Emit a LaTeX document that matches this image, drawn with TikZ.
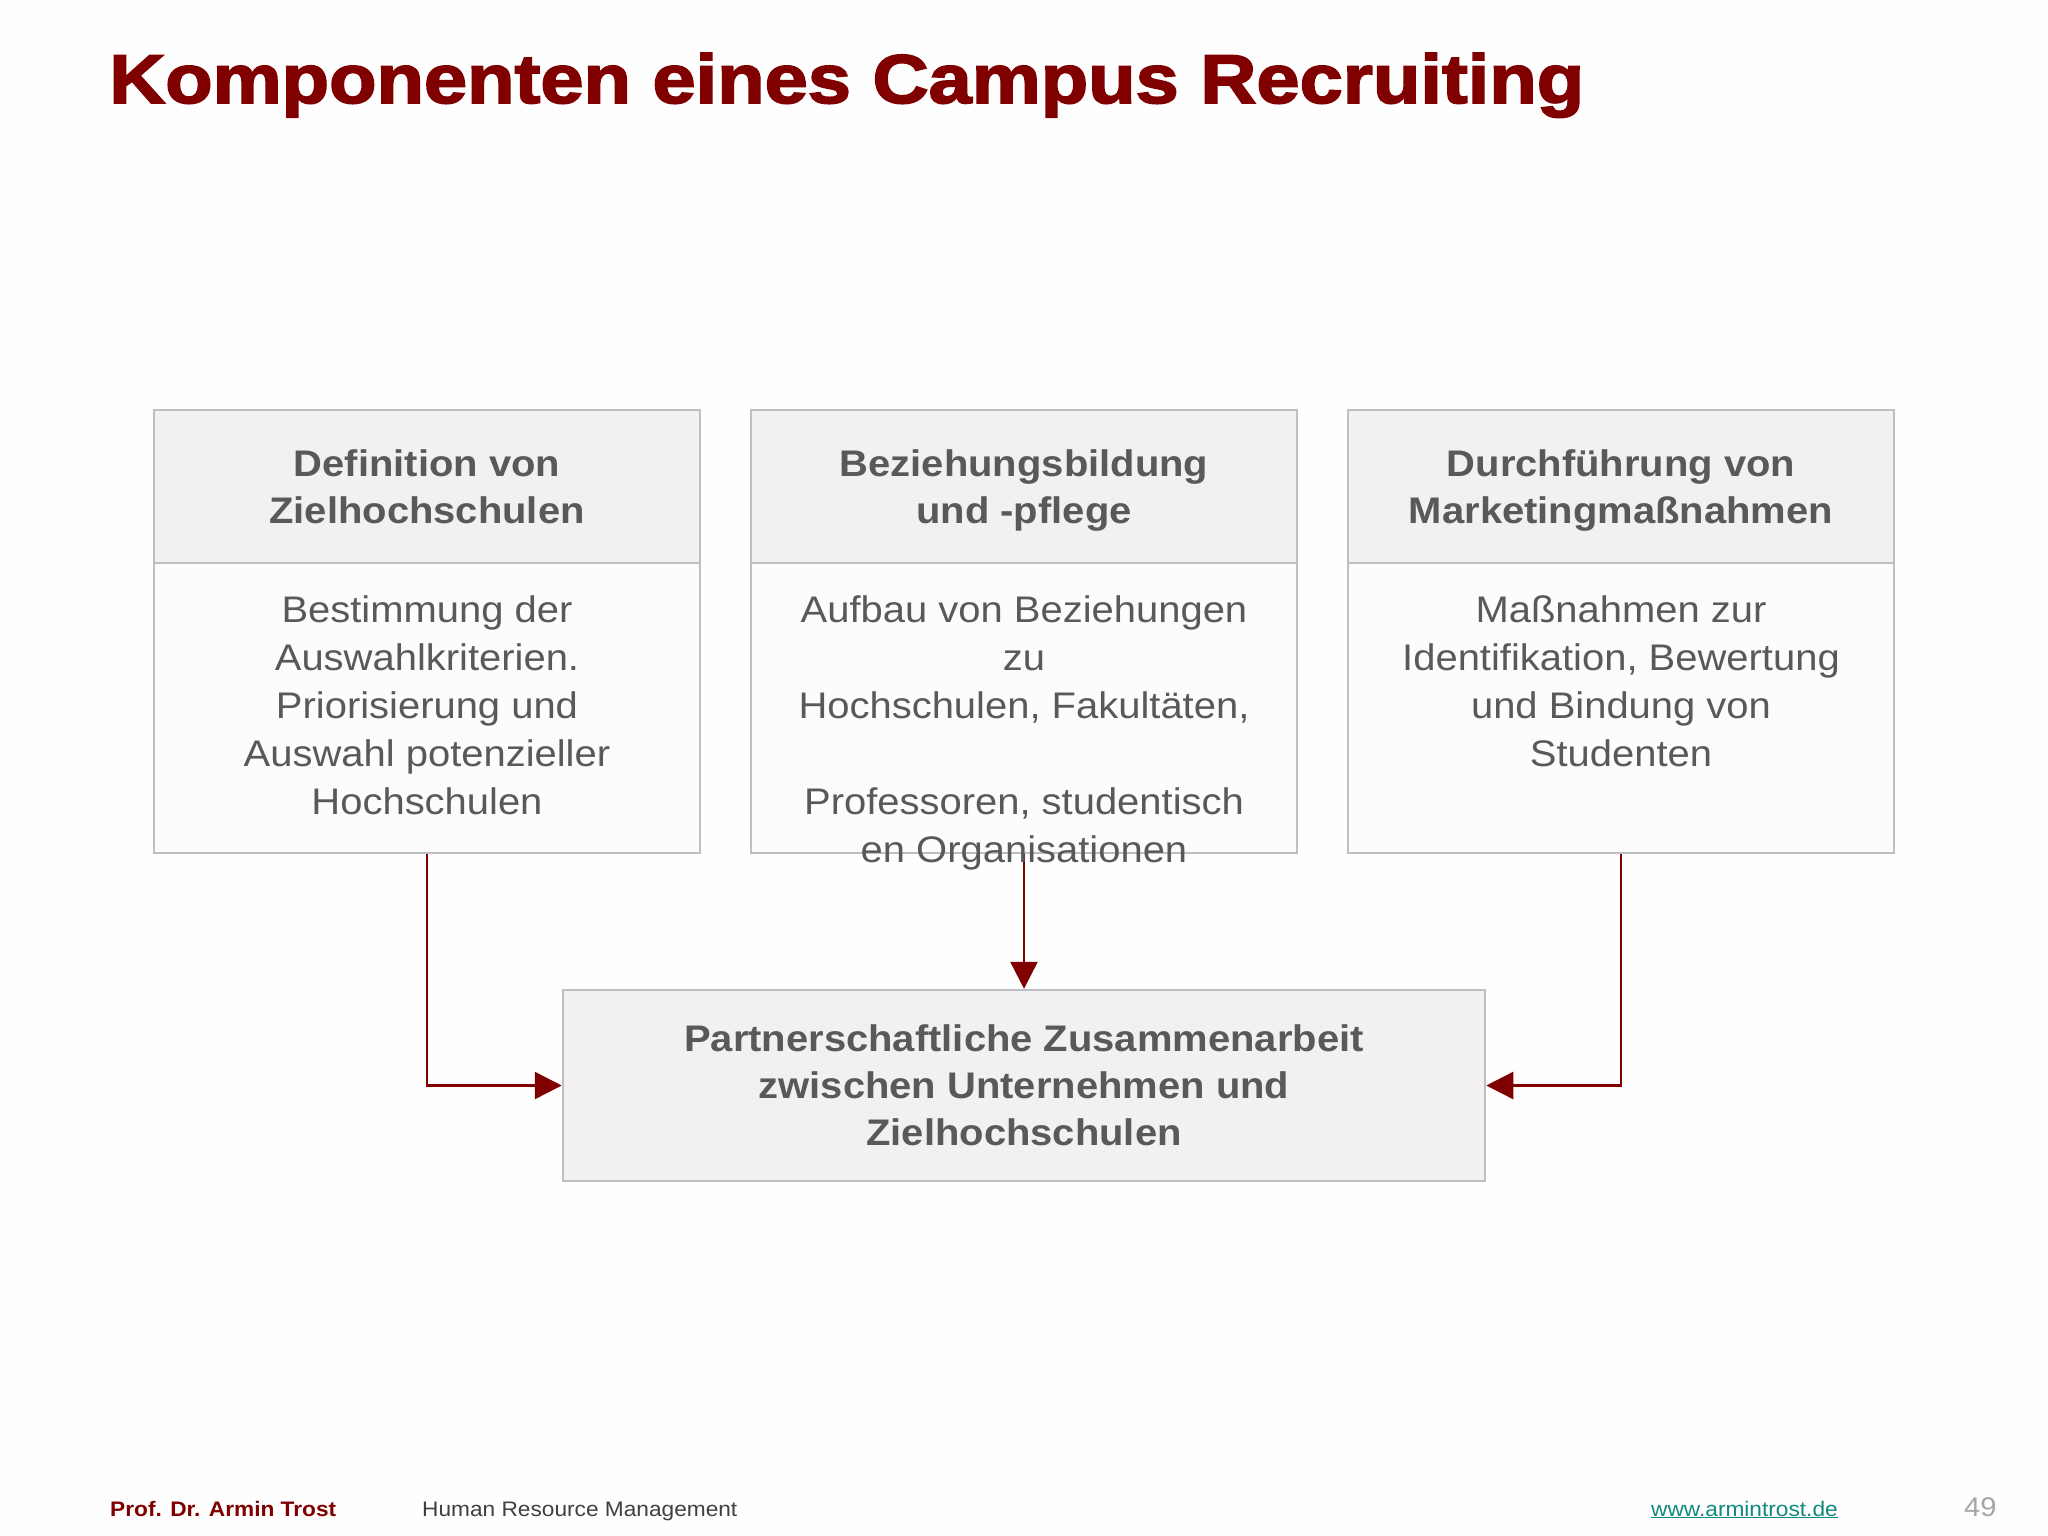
\documentclass[tikz,border=0pt]{standalone}
\usepackage{fontspec}
\setmainfont{Liberation Sans}[FakeStretch=1.08]
\newfontfamily\titlefont{Liberation Sans}[FakeStretch=1.125,BoldFeatures={FakeBold=2.5}]
\usetikzlibrary{arrows.meta}
\definecolor{titlered}{HTML}{800000}
\definecolor{textgray}{HTML}{595959}
\definecolor{linegray}{HTML}{BFBFBF}
\definecolor{headfill}{HTML}{F2F0F2}
\definecolor{bodyfill}{HTML}{FDFCFD}
\definecolor{linkteal}{HTML}{12897F}
\definecolor{pagegray}{HTML}{A6A6A6}
\definecolor{footgray}{HTML}{404040}

\begin{document}
\begin{tikzpicture}[x=1pt,y=-1pt,
  head/.style={draw=linegray,line width=2.5pt,fill=headfill,minimum width=546pt,minimum height=154pt,
    align=center,text depth=0pt,text=textgray,font=\fontsize{37}{47}\selectfont\bfseries},
  body/.style={draw=linegray,line width=2.5pt,fill=bodyfill,minimum width=546pt,minimum height=290pt},
  bodytext/.style={anchor=north,align=center,inner sep=0pt,text=textgray,font=\fontsize{37}{48}\selectfont},
  foot/.style={anchor=base west,inner sep=0pt,font=\fontsize{21}{25}\selectfont},
  flow/.style={->,color=titlered,line width=2.5pt,>={Triangle[length=27pt,width=27pt]}}]
\fill[white!60!bodyfill] (0,0) rectangle (2048,1536);
\node[anchor=base west,inner sep=0pt,text=titlered,font=\titlefont\fontsize{69}{80}\selectfont\bfseries] (title) at (109,103) {Komponenten eines Campus Recruiting};
\node[head] (h1) at (427,487) {Definition von\\Zielhochschulen};
\node[head] (h2) at (1024,487) {Beziehungsbildung\\und -pflege};
\node[head] (h3) at (1621,487) {Durchführung von\\Marketingmaßnahmen};
\node[body] (b1) at (427,708) {};
\node[body] (b2) at (1024,708) {};
\node[body] (b3) at (1621,708) {};
\node[head,minimum width=922pt,minimum height=191pt] (pz) at (1024,1085.5) {Partnerschaftliche Zusammenarbeit\\zwischen Unternehmen und\\Zielhochschulen};
\path (b1.south) edge[flow,to path={|- (\tikztotarget)}] (pz.west);
\path (b2.south) edge[flow] (pz.north);
\path (b3.south) edge[flow,to path={|- (\tikztotarget)}] (pz.east);
\node[bodytext] (t1) at (427,595) {Bestimmung der\\Auswahlkriterien.\\Priorisierung und\\Auswahl potenzieller\\Hochschulen};
\node[bodytext] (t2) at (1024,595) {Aufbau von Beziehungen\\zu\\Hochschulen, Fakultäten,\\[48pt]Professoren, studentisch\\en Organisationen};
\node[bodytext] (t3) at (1621,595) {Maßnahmen zur\\Identifikation, Bewertung\\und Bindung von\\Studenten};
\node[foot,text=titlered,font=\fontsize{21}{25}\selectfont\bfseries] (author) at (110,1516) {Prof. Dr. Armin Trost};
\node[foot,text=footgray] (course) at (422,1516) {Human Resource Management};
\node[foot,text=linkteal] (web) at (1651,1516) {\underline{www.armintrost.de}};
\node[foot,text=pagegray,font=\fontsize{27}{30}\selectfont] (page) at (1964,1516) {49};
\end{tikzpicture}
\end{document}
